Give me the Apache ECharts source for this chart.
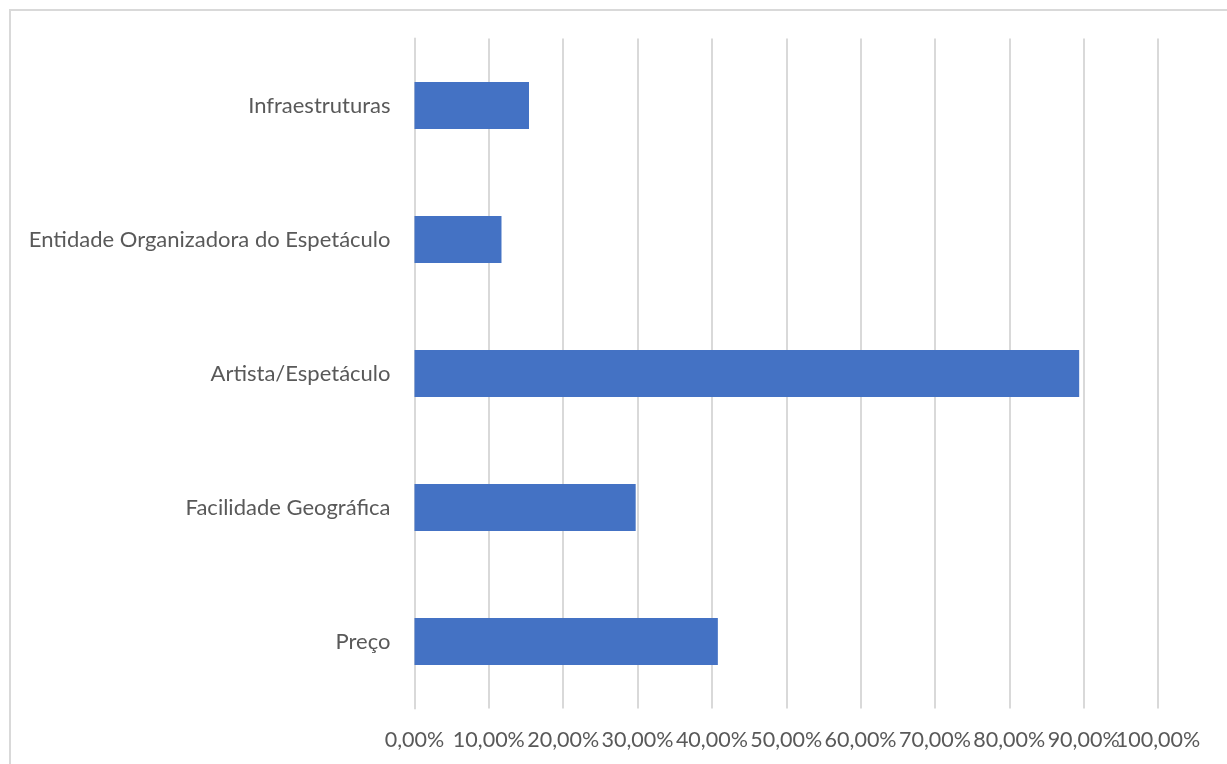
<!DOCTYPE html>
<html>
<head>
<meta charset="utf-8">
<script src="https://cdn.jsdelivr.net/npm/echarts@6/dist/echarts.min.js"></script>
<style>
  html, body { margin: 0; padding: 0; background: #ffffff; }
  #frame { position: absolute; left: 9px; top: 9px; width: 1240px; height: 800px;
           border-left: 2px solid #d9d9d9; border-top: 2px solid #d9d9d9; box-sizing: border-box; }
  #chart { position: absolute; left: 0; top: 0; width: 1227px; height: 764px; }
</style>
</head>
<body>
<div id="frame"></div>
<div id="chart"></div>
<script>
// Motivos de escolha do espetáculo (percentagem de respostas)
const categories = ['Preço', 'Facilidade Geográfica', 'Artista/Espetáculo', 'Entidade Organizadora do Espetáculo', 'Infraestruturas'];
const values = [0.408, 0.2975, 0.894, 0.117, 0.154];
const tickValues = [0, 0.1, 0.2, 0.3, 0.4, 0.5, 0.6, 0.7, 0.8, 0.9, 1.0];

const FONT = 'Lato, "Open Sans", sans-serif';
const TEXT = '#595959';
const X_MIN = tickValues[0];
const X_MAX = tickValues[tickValues.length - 1];

const pct = v => (Math.round(v * 10000) / 100).toFixed(2).replace('.', ',') + '%';
const isMax = v => Math.abs(v - X_MAX) < 1e-9;

// The last tick label sits tight against its neighbour, so it lives on a
// twin axis with the same scale to keep both visible.
const labelBase = { color: TEXT, fontFamily: FONT, fontSize: 21.5, margin: 21,
                    hideOverlap: false, showMinLabel: true, showMaxLabel: true };

const chart = echarts.init(document.getElementById('chart'), null, { renderer: 'canvas' });
chart.setOption({
  animation: false,
  backgroundColor: 'transparent',
  grid: { left: 414.5, right: 69, top: 38.5, bottom: 55.5, containLabel: false },
  xAxis: [{
    type: 'value', position: 'bottom',
    min: X_MIN, max: X_MAX, interval: 0.1,
    axisLine: { show: false },
    axisTick: { show: false },
    splitLine: { show: true, lineStyle: { color: '#d9d9d9', width: 2 } },
    axisLabel: Object.assign({}, labelBase, { formatter: v => isMax(v) ? '' : pct(v) })
  }, {
    type: 'value', position: 'bottom',
    min: X_MIN, max: X_MAX, interval: 0.1,
    axisLine: { show: false },
    axisTick: { show: false },
    splitLine: { show: false },
    axisLabel: Object.assign({}, labelBase, { formatter: v => isMax(v) ? pct(v) : '' })
  }],
  yAxis: {
    type: 'category',
    data: categories,
    axisLine: { show: true, lineStyle: { color: '#d9d9d9', width: 2 } },
    axisTick: { show: false },
    splitLine: { show: false },
    axisLabel: { color: TEXT, fontFamily: FONT, fontSize: 22, margin: 24, interval: 0 }
  },
  series: [{
    type: 'bar',
    xAxisIndex: 0,
    data: values,
    barWidth: '35%',
    itemStyle: { color: '#4472c4' },
    label: { show: false }
  }]
});
</script>
</body>
</html>
